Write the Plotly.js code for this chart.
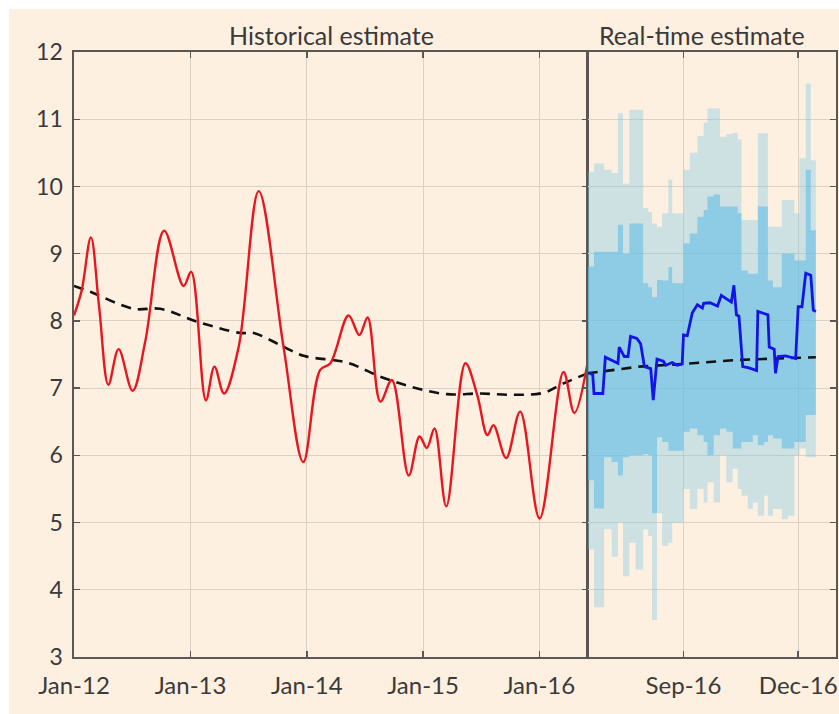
<!DOCTYPE html>
<html>
<head>
<meta charset="utf-8">
<script src="https://cdn.plot.ly/plotly-3.0.1.min.js"></script>
<style>html,body{margin:0;padding:0;background:#fff;}#chart{width:839px;height:714px;}</style>
</head>
<body>
<div id="chart"></div>
<script>
// Historical estimate (red, smooth)
const histDates = ['2012-01-01','2012-01-25','2012-02-23','2012-03-20','2012-04-18','2012-05-20','2012-07-03','2012-08-12','2012-10-10','2012-12-10','2013-01-03','2013-02-18','2013-03-17','2013-04-16','2013-06-01','2013-08-03','2013-10-20','2013-12-21','2014-02-12','2014-03-16','2014-05-12','2014-06-15','2014-07-11','2014-08-20','2014-09-25','2014-11-17','2014-12-21','2015-01-13','2015-02-06','2015-03-15','2015-05-14','2015-06-20','2015-07-22','2015-08-10','2015-09-19','2015-11-02','2016-01-02','2016-03-17','2016-04-20','2016-06-01'];
const histValues = [8.08,8.45,9.24,8.2,7.05,7.58,6.96,7.7,9.34,8.52,8.73,6.82,7.32,6.92,7.61,9.93,7.61,5.90,7.27,7.37,8.08,7.79,8.05,6.80,7.12,5.70,6.28,6.11,6.40,5.24,7.37,6.9,6.30,6.45,5.96,6.65,5.06,7.24,6.63,7.39];

// Trend (black dashed), historical panel
const trendDates = ['2012-01-01','2012-02-23','2012-07-06','2012-09-28','2013-01-21','2013-06-06','2013-07-18','2013-10-10','2013-12-22','2014-05-07','2014-08-20','2014-12-02','2015-03-17','2015-06-30','2015-10-12','2016-01-14','2016-03-17','2016-06-01'];
const trendValues = [8.52,8.43,8.18,8.18,7.99,7.82,7.82,7.64,7.48,7.38,7.17,7.01,6.91,6.92,6.90,6.93,7.07,7.22];

// Trend (black dashed), real-time panel
const trendRTDates = ['2016-06-17','2016-07-28','2016-08-24','2016-10-15','2016-12-15'];
const trendRTValues = [7.22,7.32,7.35,7.42,7.46];

// Real-time estimate (blue)
const rtDates = ['2016-06-18','2016-06-21','2016-06-22','2016-06-29','2016-07-01','2016-07-11','2016-07-12','2016-07-16','2016-07-19','2016-07-21','2016-07-26','2016-07-29','2016-08-01','2016-08-06','2016-08-08','2016-08-09','2016-08-11','2016-08-16','2016-08-18','2016-08-23','2016-08-27','2016-08-31','2016-09-01','2016-09-04','2016-09-08','2016-09-12','2016-09-16','2016-09-17','2016-09-22','2016-09-28','2016-10-01','2016-10-09','2016-10-11','2016-10-13','2016-10-15','2016-10-18','2016-10-23','2016-10-29','2016-10-30','2016-11-07','2016-11-08','2016-11-12','2016-11-13','2016-11-15','2016-11-21','2016-11-29','2016-12-01','2016-12-04','2016-12-07','2016-12-11','2016-12-13','2016-12-15'];
const rtValues = [7.23,7.2,6.92,6.92,7.46,7.37,7.61,7.47,7.47,7.77,7.74,7.66,7.32,7.29,6.82,7.0,7.43,7.40,7.34,7.38,7.34,7.36,7.79,7.78,8.12,8.24,8.19,8.26,8.27,8.22,8.38,8.28,8.53,8.09,8.07,7.32,7.30,7.26,8.14,8.09,7.61,7.58,7.22,7.47,7.48,7.44,8.21,8.21,8.71,8.68,8.16,8.14];

// Uncertainty bands (step dates)
const bandDates = ['2016-06-17','2016-06-22','2016-06-30','2016-07-06','2016-07-11','2016-07-15','2016-07-20','2016-07-25','2016-07-31','2016-08-04','2016-08-07','2016-08-11','2016-08-15','2016-08-20','2016-08-23','2016-08-27','2016-09-01','2016-09-06','2016-09-12','2016-09-17','2016-09-20','2016-09-25','2016-09-30','2016-10-05','2016-10-10','2016-10-14','2016-10-17','2016-10-22','2016-10-26','2016-10-30','2016-11-04','2016-11-07','2016-11-11','2016-11-18','2016-11-23','2016-11-28','2016-12-02','2016-12-07','2016-12-11','2016-12-15'];
const outerUpper = [10.22,10.34,10.25,10.2,11.09,10.04,11.14,11.14,9.68,9.62,9.45,9.4,9.6,10.1,9.6,9.6,10.25,10.5,10.75,10.95,11.16,11.16,10.74,10.78,10.8,10.7,9.5,9.5,9.5,10.79,10.79,9.4,9.4,9.8,9.8,9.6,10.42,11.53,10.39,10.39];
const innerUpper = [8.81,9.03,9.03,9.03,9.43,9.0,9.45,9.45,8.56,8.5,8.35,8.61,8.6,8.8,8.56,8.56,9.15,9.3,9.55,9.65,9.85,9.88,9.7,9.7,9.7,9.6,8.75,8.7,8.7,9.7,9.7,8.6,8.5,9.0,9.0,8.9,8.9,10.25,9.35,9.35];
const innerLower = [5.63,5.21,5.97,5.9,5.7,5.97,6.0,6.0,6.02,6.0,5.14,6.27,6.2,6.07,6.07,6.07,6.35,6.4,6.3,6.2,6.0,6.3,6.4,6.35,6.1,6.1,6.2,6.2,6.3,6.15,6.2,6.3,6.25,6.1,6.1,6.2,6.2,6.6,6.6,6.6];
const outerLower = [4.6,3.74,4.9,4.49,5.0,4.2,4.7,4.3,4.9,4.8,3.55,5.14,4.65,4.7,5.0,5.0,5.5,5.2,5.5,5.3,5.6,5.3,6.0,5.6,5.8,5.5,5.4,5.2,5.3,5.1,5.4,5.1,5.2,5.05,5.1,6.0,6.1,5.97,5.97,5.97];

const yTicks = [3,4,5,6,7,8,9,10,11,12];
const xTicksHist = ['2012-01-01','2013-01-01','2014-01-01','2015-01-01','2016-01-01'];
const xTextHist = ['Jan-12','Jan-13','Jan-14','Jan-15','Jan-16'];
const xTicksRT = ['2016-09-01','2016-12-01'];
const xTextRT = ['Sep-16','Dec-16'];

const peach = '#fdf0e1';
const axisCol = '#5b5752';
const gridCol = '#d9d1c6';
const textCol = '#3a3a3a';
const font = 'Lato, "Open Sans", sans-serif';

const traces = [
  {x: bandDates, y: outerLower, xaxis:'x2', yaxis:'y2', mode:'lines', line:{width:0, shape:'hv'}, hoverinfo:'skip', showlegend:false},
  {x: bandDates, y: outerUpper, xaxis:'x2', yaxis:'y2', mode:'lines', line:{width:0, shape:'hv'}, fill:'tonexty', fillcolor:'rgba(120,200,230,0.36)', hoverinfo:'skip', showlegend:false},
  {x: bandDates, y: innerLower, xaxis:'x2', yaxis:'y2', mode:'lines', line:{width:0, shape:'hv'}, hoverinfo:'skip', showlegend:false},
  {x: bandDates, y: innerUpper, xaxis:'x2', yaxis:'y2', mode:'lines', line:{width:0, shape:'hv'}, fill:'tonexty', fillcolor:'rgba(100,190,230,0.6)', hoverinfo:'skip', showlegend:false},
  {x: trendRTDates, y: trendRTValues, xaxis:'x2', yaxis:'y2', mode:'lines', line:{color:'#111', width:2.6, dash:'10px,7px'}, showlegend:false},
  {x: rtDates, y: rtValues, xaxis:'x2', yaxis:'y2', mode:'lines', line:{color:'#1414e6', width:2.8}, showlegend:false},
  {x: trendDates, y: trendValues, xaxis:'x', yaxis:'y', mode:'lines', line:{color:'#111', width:2.6, dash:'10px,7px', shape:'spline'}, showlegend:false},
  {x: histDates, y: histValues, xaxis:'x', yaxis:'y', mode:'lines', line:{color:'#e8161e', width:2.4, shape:'spline', smoothing:1}, showlegend:false}
];

const split = (587.7-74)/762;
const axCommon = {showline:true, linecolor:axisCol, linewidth:1.6, ticks:'inside', ticklen:6, tickwidth:1.4, tickcolor:axisCol, showgrid:true, gridcolor:gridCol, gridwidth:1, zeroline:false, tickfont:{family:font, size:24, color:textCol}};

const layout = {
  width:839, height:714,
  margin:{l:74, r:3, t:52, b:57},
  paper_bgcolor:'#ffffff',
  plot_bgcolor:'rgba(0,0,0,0)',
  showlegend:false,
  xaxis: Object.assign({}, axCommon, {domain:[0, split], anchor:'y', type:'date', range:['2012-01-01','2016-06-01'], tickmode:'array', tickvals:xTicksHist, ticktext:xTextHist, mirror:'ticks', ticklabelstandoff:7}),
  xaxis2: Object.assign({}, axCommon, {domain:[split, 1], anchor:'y2', type:'date', range:['2016-06-17','2016-12-31'], tickmode:'array', tickvals:xTicksRT, ticktext:xTextRT, mirror:'ticks', ticklabelstandoff:7}),
  yaxis: Object.assign({}, axCommon, {anchor:'x', range:[3,12], tickmode:'array', tickvals:yTicks, mirror:'ticks', ticklabelstandoff:5, tickfont:{family:font, size:23, color:textCol}}),
  yaxis2: Object.assign({}, axCommon, {anchor:'x2', side:'right', range:[3,12], tickmode:'array', tickvals:yTicks, showticklabels:false, mirror:true}),
  shapes:[
    {type:'rect', xref:'paper', yref:'paper', x0:(9-74)/762, x1:1.01, y0:-0.1, y1:(657-9)/605, fillcolor:peach, line:{width:0}, layer:'below'}
  ],
  annotations:[
    {text:'Historical estimate', xref:'paper', yref:'paper', x:(331-74)/762, y:(657-35)/605, xanchor:'center', yanchor:'middle', showarrow:false, font:{family:font, size:25, color:textCol}},
    {text:'Real-time estimate', xref:'paper', yref:'paper', x:(702-74)/762, y:(657-35)/605, xanchor:'center', yanchor:'middle', showarrow:false, font:{family:font, size:25, color:textCol}}
  ]
};

Plotly.newPlot('chart', traces, layout, {displayModeBar:false, staticPlot:true});
</script>
</body>
</html>
